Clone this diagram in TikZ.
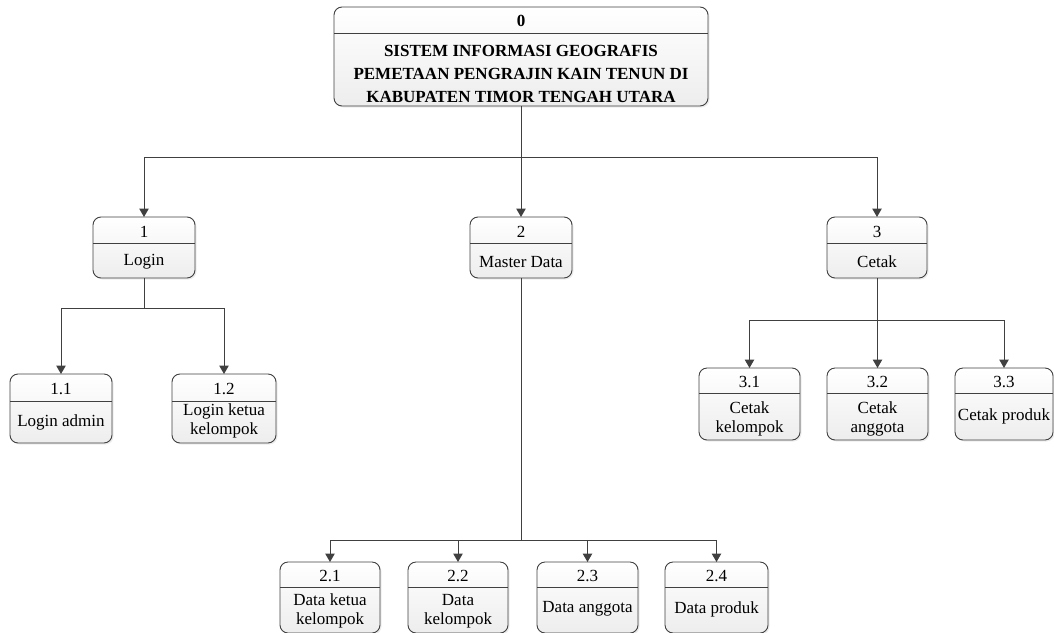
\documentclass[tikz,border=0pt]{standalone}
\usepackage{fontspec}
\setmainfont{Liberation Serif}
\usetikzlibrary{arrows.meta,shadows}
\definecolor{linec}{HTML}{404040}
\tikzset{
  procbox/.style={draw=linec, line width=0.9pt, rounded corners=8pt, top color=white, bottom color=black!7,
    drop shadow={opacity=0.15, shadow xshift=1.5pt, shadow yshift=-1.5pt}, inner sep=0pt, outer sep=0pt},
  divline/.style={draw=linec, line width=0.9pt},
  txt/.style={inner sep=0pt, font=\fontsize{17}{19.5}\selectfont, align=center},
  bigtxt/.style={inner sep=0pt, font=\fontsize{17}{23}\selectfont\bfseries, align=center},
  conn/.style={draw=linec, line width=1pt},
  arr/.style={conn, -{Triangle[length=8.5pt,width=9.5pt]}},
}
% name, x1, y1, x2, y2, ydiv, number, label, label centre y
\newcommand\pbox[9]{%
  \pgfmathsetmacro\bw{#4-#2}\pgfmathsetmacro\bh{#5-#3}%
  \node[procbox, minimum width=\bw pt, minimum height=\bh pt] (#1) at ({(#2+#4)/2},{(#3+#5)/2}) {};
  \draw[divline] (#2,#6) -- (#4,#6);
  \node[txt] (#1n) at ({(#2+#4)/2},{(#3+#6)/2+1.5}) {#7};
  \node[txt] (#1l) at ({(#2+#4)/2},#9) {#8};
}
\begin{document}
\begin{tikzpicture}[x=1pt,y=-1pt]
\useasboundingbox (0,0) rectangle (1054,632);
\clip (0,0) rectangle (1054,632);
% top box
\pgfmathsetmacro\bw{708-334}\pgfmathsetmacro\bh{106-7}
\node[procbox, minimum width=\bw pt, minimum height=\bh pt] (b0) at (521,56.5) {};
\draw[divline] (334,33) -- (708,33);
\node[txt, font=\fontsize{17}{19.5}\selectfont\bfseries] (b0n) at (521,21) {0};
\node[bigtxt] (b0l) at (521,74) {SISTEM INFORMASI GEOGRAFIS\\PEMETAAN PENGRAJIN KAIN TENUN DI\\KABUPATEN TIMOR TENGAH UTARA};
% level 1
\pbox{b1}{93}{217}{195}{278}{243}{1}{Login}{262}
\pbox{b2}{470}{217}{572}{278}{243}{2}{Master Data}{262}
\pbox{b3}{827}{217}{927}{278}{243}{3}{Cetak}{262}
% level 2 under 1
\pbox{b11}{10}{374}{112}{443}{401}{1.1}{Login admin}{422}
\pbox{b12}{172}{374}{276}{443}{401}{1.2}{Login ketua\\kelompok}{421}
% level 2 under 3
\pbox{b31}{699}{368}{800}{440}{393}{3.1}{Cetak\\kelompok}{419}
\pbox{b32}{827}{368}{928}{440}{393}{3.2}{Cetak\\anggota}{419}
\pbox{b33}{955}{368}{1053}{440}{393}{3.3}{Cetak produk}{416}
% level 2 under 2
\pbox{b21}{280}{562}{380}{633}{587}{2.1}{Data ketua\\kelompok}{611}
\pbox{b22}{408}{562}{508}{633}{587}{2.2}{Data\\kelompok}{611}
\pbox{b23}{537}{562}{638}{633}{587}{2.3}{Data anggota}{609}
\pbox{b24}{665}{562}{768}{633}{587}{2.4}{Data produk}{609}
% connectors
\coordinate (j0) at (521,157);
\draw[conn] (b0.south) -- (j0);
\draw[arr] (j0) -| (b1.north);
\draw[arr] (j0) -- (b2.north);
\draw[arr] (j0) -| (b3.north);
\coordinate (j1) at (144,308);
\draw[conn] (b1.south) -- (j1);
\draw[arr] (j1) -| (b11.north);
\draw[arr] (j1) -| (b12.north);
\coordinate (j3) at (877,320);
\draw[conn] (b3.south) -- (j3);
\draw[arr] (j3) -| (b31.north);
\draw[arr] (j3) -| (b32.north);
\draw[arr] (j3) -| (b33.north);
\coordinate (j2) at (521,540);
\draw[conn] (b2.south) -- (j2);
\draw[arr] (j2) -| (b21.north);
\draw[arr] (j2) -| (b22.north);
\draw[arr] (j2) -| (b23.north);
\draw[arr] (j2) -| (b24.north);
\end{tikzpicture}
\end{document}
